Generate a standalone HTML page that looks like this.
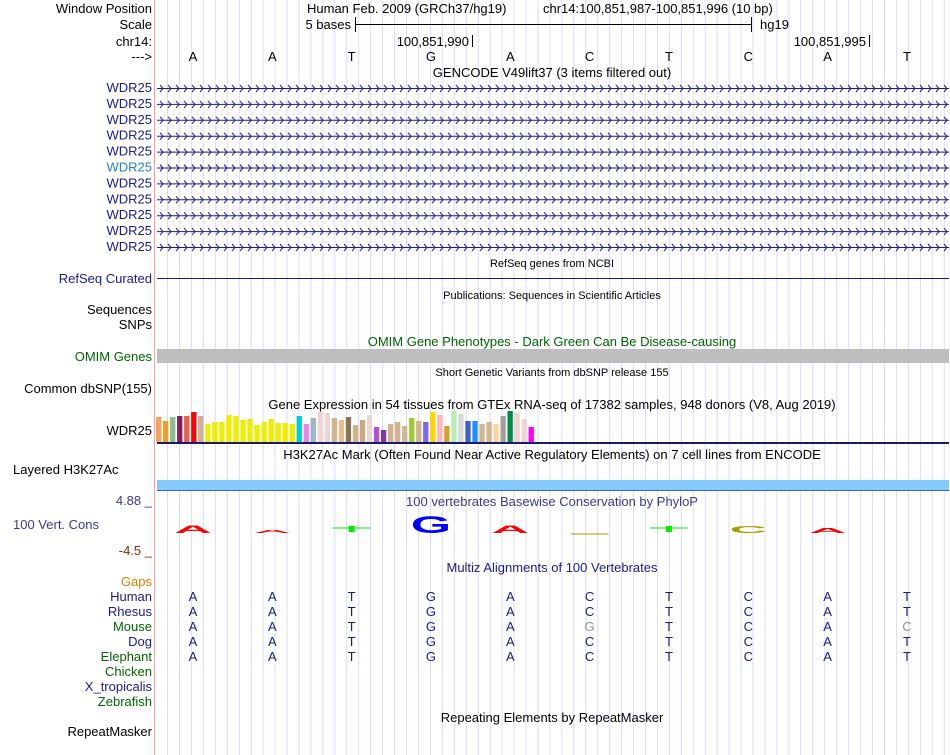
<!DOCTYPE html>
<html><head><meta charset="utf-8"><style>
html,body{margin:0;padding:0;background:#fff;width:950px;height:755px;overflow:hidden}
svg text{font-family:"Liberation Sans",sans-serif}
</style></head><body>
<svg id="s" width="950" height="755" xmlns="http://www.w3.org/2000/svg">
<g id="grid"></g>
<line x1="154.5" y1="0" x2="154.5" y2="755" stroke="#f4a0a0"/>
<g id="labels" font-size="13" text-anchor="end"></g>
<g id="content"></g>
</svg>
<script>
const bases = ['A','A','T','G','A','C','T','C','A','T'];
const mouseBases = ['A','A','T','G','A','G','T','C','A','C'];
const consScores = [8, 3, 0.5, 17, 8, -0.5, 0.5, 7, 5, 0];
const gtexHeights = [25,21,25,26,26,30,26,18,20,20,27,26,22,23,17,20,23,19,19,18,26,18,24,30,29,24,22,25,17,22,27,15,12,18,20,16,24,21,20,30,27,16,31,28,21,21,18,20,18,26,31,29,23,15];
const gtexColors = ['#f5a25d','#f0a020','#8fbc8f','#8b1a5a','#e8604c','#ff0000','#c8b09a','#eeee00','#eeee00','#eeee00','#eeee00','#eeee00','#eeee00','#eeee00','#eeee00','#eeee00','#eeee00','#eeee00','#eeee00','#eeee00','#00ced1','#ee82ee','#9ab8c8','#eed5d2','#eed5d2','#d2b48c','#e8c090','#8b7355','#d2b48c','#cdaa7d','#eed5d2','#b452cd','#7d3c98','#d2b48c','#d2b48c','#cdb79e','#9acd32','#d2b48c','#7b68ee','#ffd700','#ffb6c1','#d8a020','#b4eeb4','#d9d9d9','#3a5fcd','#1e90ff','#d2b48c','#d2b48c','#ffd39b','#a0a0a0','#008b45','#eed5d2','#eed5d2','#ff00ff'];
const NS='http://www.w3.org/2000/svg';
const X0=153.3, BW=79.33;
const xBase=i=>X0+BW*(i+0.5);
function mk(tag,attrs,parent,txt){const e=document.createElementNS(NS,tag);for(const k in attrs)e.setAttribute(k,attrs[k]);if(txt!=null)e.textContent=txt;parent.appendChild(e);return e;}
const grid=document.getElementById('grid'),labels=document.getElementById('labels'),content=document.getElementById('content');
for(let x=167.5;x<950;x+=11.95){const l=mk('line',{x1:x,y1:0,x2:x,y2:755,stroke:'#dcdcf4'},grid);

}
const labs=[['Window Position',13,'#000'],['Scale',29,'#000'],['chr14:',46,'#000'],['--->',61,'#000']];
const wdrY=[];for(let i=0;i<11;i++){wdrY.push(88+i*15.9);labs.push(['WDR25',92+i*15.9,i==5?'#1e80c8':'#1a1a8c']);}
labs.push(['RefSeq Curated',283,'#1a1a8c'],['Sequences',314,'#000'],['SNPs',329,'#000'],['OMIM Genes',361,'#006400'],['Common dbSNP(155)',393,'#000'],['WDR25',435,'#000'],['Gaps',586,'#e08000'],['Human',601,'#1a1a8c'],['Rhesus',616,'#1a1a8c'],['Mouse',631,'#006400'],['Dog',646,'#1a1a8c'],['Elephant',661,'#006400'],['Chicken',676,'#006400'],['X_tropicalis',691,'#1a1a8c'],['Zebrafish',706,'#006400'],['RepeatMasker',736,'#000']);
labs.forEach(([t,y,c])=>{const e=mk('text',{x:152,y:y,fill:c},labels,t);

});
[['Layered H3K27Ac',13,474,'#000','start'],['4.88 _',152,505,'#3a3a8c','end'],['100 Vert. Cons',13,529,'#3a3a8c','start'],['-4.5 _',152,555,'#8b2a00','end']].forEach(([t,x,y,c,a])=>{const e=mk('text',{x:x,y:y,fill:c,'text-anchor':a,'font-size':13},labels,t);

});
function title(t,y,c,fs){const e=mk('text',{x:552,y:y,fill:c,'font-size':fs||13,'text-anchor':'middle'},content,t);

}
mk('text',{x:307,y:13,'font-size':13},content,'Human Feb. 2009 (GRCh37/hg19)');
mk('text',{x:543,y:13,'font-size':13},content,'chr14:100,851,987-100,851,996 (10 bp)');
title('GENCODE V49lift37 (3 items filtered out)',77,'#000');
title('RefSeq genes from NCBI',267,'#000',11);
title('Publications: Sequences in Scientific Articles',299,'#000',11);
title('OMIM Gene Phenotypes - Dark Green Can Be Disease-causing',346,'#006400');
title('Short Genetic Variants from dbSNP release 155',376,'#000',11);
title('Gene Expression in 54 tissues from GTEx RNA-seq of 17382 samples, 948 donors (V8, Aug 2019)',409,'#000');
title('H3K27Ac Mark (Often Found Near Active Regulatory Elements) on 7 cell lines from ENCODE',459,'#000');
title('100 vertebrates Basewise Conservation by PhyloP',506,'#3a3a8c');
title('Multiz Alignments of 100 Vertebrates',572,'#1a1a8c');
title('Repeating Elements by RepeatMasker',722,'#000');
const sc=mk('g',{stroke:'#000'},content);
mk('line',{x1:355.5,y1:24.5,x2:751.5,y2:24.5},sc);mk('line',{x1:355.5,y1:17,x2:355.5,y2:32},sc);mk('line',{x1:751.5,y1:17,x2:751.5,y2:32},sc);
mk('text',{x:351,y:29,'font-size':13,'text-anchor':'end'},content,'5 bases');mk('text',{x:760,y:29,'font-size':13},content,'hg19');
mk('line',{x1:472.5,y1:35,x2:472.5,y2:47,stroke:'#000'},content);mk('text',{x:469,y:46,'font-size':13,'text-anchor':'end'},content,'100,851,990');
mk('line',{x1:869.5,y1:35,x2:869.5,y2:47,stroke:'#000'},content);mk('text',{x:866,y:46,'font-size':13,'text-anchor':'end'},content,'100,851,995');
bases.forEach((b,i)=>{const e=mk('text',{x:xBase(i),y:61,'font-size':13,'text-anchor':'middle'},content,b);

});
wdrY.forEach(y=>{const g=mk('g',{stroke:'#1a1a8c',fill:'none'},content);


mk('line',{x1:157,y1:y+0.5,x2:949,y2:y+0.5},g);let d='';for(let x=160;x<948;x+=8)d+=`M${x},${y-3}L${x+3},${y+0.5}L${x},${y+4}`;mk('path',{d:d},g);});
mk('line',{x1:157,y1:278.5,x2:949,y2:278.5,stroke:'#1a1a8c'},content);
const om=mk('rect',{x:157,y:349,width:792,height:14,fill:'#bebebe'},content);


const base=442;
gtexHeights.forEach((h,i)=>{const r=mk('rect',{x:156+i*7.03,y:base-h,width:5.3,height:h,fill:gtexColors[i]},content);

});
mk('line',{x1:157,y1:443,x2:949,y2:443,stroke:'#1a1a6c','stroke-width':2},content);
const hb=mk('rect',{x:157,y:480,width:792,height:10,fill:'#84ccff'},content);


mk('line',{x1:157,y1:490.5,x2:949,y2:490.5,stroke:'#4060d0'},content);
const colMap={A:'#ff0000',C:'#a8a000',G:'#0000ff',T:'#00ee00'};
const zero=533;
consScores.forEach((v,i)=>{const b=bases[i];const h=Math.abs(v);if(h<0.1)return;
const g=mk('g',{},content);
if(b==='T'){mk('line',{x1:xBase(i)-19,y1:zero-5,x2:xBase(i)+19,y2:zero-5,stroke:'#00ee00'},g);mk('rect',{x:xBase(i)-3,y:zero-7,width:6,height:6,fill:'#00ee00'},g);return;}
if(h<1){mk('line',{x1:xBase(i)-19,y1:zero+1,x2:xBase(i)+19,y2:zero+1,stroke:colMap[b],'stroke-width':1},g);return;}
const sy=h/9.3;const t=mk('text',{x:0,y:0,'font-size':13,'font-weight':'bold','text-anchor':'middle',fill:colMap[b],transform:`translate(${xBase(i)},${v>=0?zero:zero+h}) scale(4,${sy})`},g,b);});
const mzY=[601,616,631,646,661];
mzY.forEach((y,r)=>{bases.forEach((b,i)=>{const mb=r===2?mouseBases[i]:b;const e=mk('text',{x:xBase(i),y:y,'font-size':13,'text-anchor':'middle',fill:(r===2&&mb!==b)?'#9090a0':'#1a1a8c'},content,mb);

});});
</script>
</body></html>
